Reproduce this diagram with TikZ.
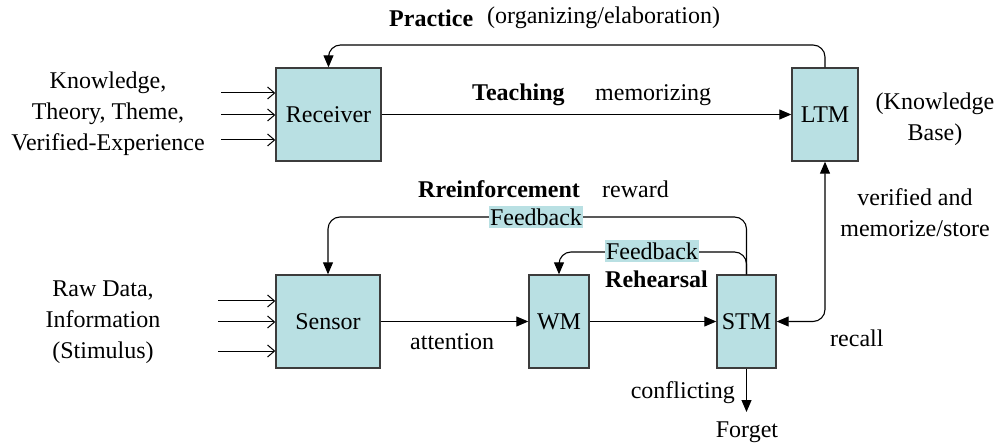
\documentclass[tikz,border=0pt]{standalone}
\usepackage{fontspec}
\setmainfont{Liberation Serif}
\newfontfamily\timesfam{Liberation Serif}
\usetikzlibrary{arrows.meta}
\definecolor{boxfill}{RGB}{185,224,227}
\definecolor{boxline}{RGB}{60,60,60}
\begin{document}
\begin{tikzpicture}[x=1pt,y=-1pt,
  every node/.style={font=\timesfam\fontsize{24}{31}\selectfont},
  memblock/.style={draw=boxline,line width=1.4pt,fill=boxfill,inner sep=0pt},
  lbl/.style={inner sep=0pt},
  boldlbl/.style={inner sep=0pt,font=\timesfam\fontsize{24}{31}\selectfont\bfseries},
  flow/.style={line width=1.1pt,-{Triangle[length=12pt,width=10pt]}},
  twoway/.style={line width=1.1pt,{Triangle[length=12pt,width=10pt]}-{Triangle[length=12pt,width=10pt]}},
  feed/.style={line width=1.1pt,rounded corners=12pt,-{Triangle[length=12pt,width=10pt]}},
  input/.style={line width=1pt,-{Straight Barb[length=7pt,width=12pt]}},
  fbtag/.style={fill=boxfill,inner xsep=1pt,inner ysep=3pt}]
\useasboundingbox (0,0) rectangle (1004,446);

% memory blocks
\node[memblock,minimum width=105pt,minimum height=93pt] (rec) at (328.5,114.5) {Receiver};
\node[memblock,minimum width=66pt,minimum height=93pt] (ltm) at (825,114.5) {LTM};
\node[memblock,minimum width=104pt,minimum height=93pt] (sen) at (328,321.5) {Sensor};
\node[memblock,minimum width=60pt,minimum height=93pt] (wm) at (559,321.5) {WM};
\node[memblock,minimum width=59pt,minimum height=93pt] (stm) at (746.5,321.5) {STM};

% external inputs
\node[lbl,align=center] (kin) at (108,114) {Knowledge,\\Theory, Theme,\\Verified-Experience};
\node[lbl,align=center] (rin) at (103,322) {Raw Data,\\Information\\(Stimulus)};
\coordinate (k1) at (221,93);
\coordinate (k2) at (221,115);
\coordinate (k3) at (221,140);
\draw[input] (k1) -- (k1 -| rec.west);
\draw[input] (k2) -- (k2 -| rec.west);
\draw[input] (k3) -- (k3 -| rec.west);
\coordinate (s1) at (218,301);
\coordinate (s2) at (218,322);
\coordinate (s3) at (218,351);
\draw[input] (s1) -- (s1 -| sen.west);
\draw[input] (s2) -- (s2 -| sen.west);
\draw[input] (s3) -- (s3 -| sen.west);

% practice loop
\coordinate (ptop) at (0,45);
\draw[feed] (ltm.north) -- (ltm.north |- ptop) -- (rec.north |- ptop) -- (rec.north);
\node[boldlbl,anchor=west] (prac) at (389,18) {Practice};
\node[lbl,anchor=west] (orgel) at (487,18) {(organizing/elaboration)};

% teaching
\draw[flow] (rec.east) -- (ltm.west);
\node[boldlbl,anchor=west] (teach) at (472,95) {Teaching};
\node[lbl,anchor=west] (memo) at (595,95) {memorizing};
\node[lbl,align=center] (kb) at (935,119) {(Knowledge\\Base)};

% main chain
\draw[flow] (sen.east) -- (wm.west);
\draw[flow] (wm.east) -- (stm.west);
\node[lbl,anchor=west] (att) at (410,342) {attention};

% STM <-> LTM
\draw[twoway,rounded corners=12pt] (stm.east) -- (stm.east -| ltm.south) -- (ltm.south);
\node[lbl,align=center] (vm) at (915,213) {verified and\\memorize/store};
\node[lbl,anchor=west] (rc) at (830,338) {recall};

% reinforcement feedback
\coordinate (rtop) at (0,217);
\draw[feed] (stm.north) -- (stm.north |- rtop) -- (sen.north |- rtop) -- (sen.north);
\node[fbtag] (fb1) at (536,217) {Feedback};
\node[boldlbl,anchor=west] (reinf) at (418,189) {Rreinforcement};
\node[lbl,anchor=west] (rew) at (602,189) {reward};

% rehearsal feedback
\coordinate (htop) at (0,252);
\draw[feed] (stm.north) -- (stm.north |- htop) -- (wm.north |- htop) -- (wm.north);
\node[fbtag] (fb2) at (652,251) {Feedback};
\node[boldlbl,anchor=west] (reh) at (605,279) {Rehearsal};

% forgetting
\coordinate (fg) at (stm.south |- 0,412);
\draw[flow] (stm.south) -- (fg);
\node[lbl,anchor=east] (confl) at (735,393) {conflicting};
\node[lbl] (forget) at (747,432) {Forget};
\end{tikzpicture}
\end{document}
